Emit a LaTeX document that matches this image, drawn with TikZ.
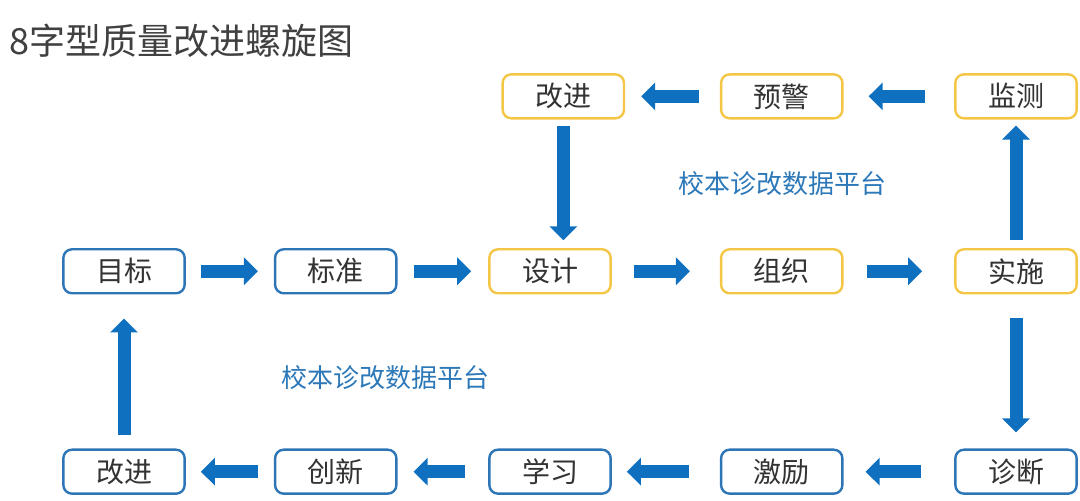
\documentclass[tikz,border=0pt]{standalone}
\usepackage{fontspec}
\newfontfamily\cjk{Noto Sans CJK SC}
\usetikzlibrary{matrix,arrows.meta}

\definecolor{boxblue}{HTML}{2E75B6}
\definecolor{boxyellow}{HTML}{F4C646}
\definecolor{arrowblue}{HTML}{1070C0}
\definecolor{platblue}{HTML}{2C78B8}
\definecolor{titlegray}{HTML}{404040}

\tikzset{
  box/.style={draw=boxblue, line width=1.8pt, rounded corners=6.5pt, fill=white,
    minimum width=91pt, minimum height=33pt, inner sep=0pt, anchor=center,
    text=black!80, font=\cjk\fontsize{21pt}{24pt}\selectfont},
  yel/.style={draw=boxyellow},
  flow/.style={color=arrowblue, line width=9.75pt,
    -{Triangle[width=20.25pt 0 0, length=10.5pt 0 0]}},
  gaps/.style 2 args={shorten <=#1, shorten >=#2},
  plat/.style={text=platblue, inner sep=0pt, font=\cjk\fontsize{19.5pt}{22pt}\selectfont}
}

\begin{document}
\begin{tikzpicture}[x=0.75pt, y=-0.75pt]
\useasboundingbox (0,0) rectangle (1080,500);
\node (title) [anchor=west, inner sep=0pt, text=titlegray,
  font=\cjk\fontsize{27pt}{30pt}\selectfont] at (9,41) {8字型质量改进螺旋图};
\matrix (a) [matrix of nodes, nodes={box}, inner sep=0pt,
  row sep=96.4pt, column sep=66pt] at (570,284)
{
 & &[1.9pt] |[yel, xshift=10pt]| 改进 &[5pt] |[yel]| 预警 &[16.9pt] |[yel]| 监测 \\
 目标 & 标准 &[1.9pt] |[yel]| 设计 &[5pt] |[yel]| 组织 &[16.9pt] |[yel]| 实施 \\[19.1pt]
 改进 & 创新 &[1.9pt] 学习 &[5pt] 激励 &[16.9pt] 诊断 \\
};
\node (plat1) [plat] at (782,184) {校本诊改数据平台};
\node (plat2) [plat] at (385,378) {校本诊改数据平台};
\path[flow]
(a-1-4) edge[gaps={15.75pt}{12pt}] (a-1-3)
(a-1-5) edge[gaps={21.75pt}{18.75pt}] (a-1-4)
(a-1-3) edge[gaps={4.5pt}{23.25pt}] (a-1-3 |- a-2-3)
(a-2-1) edge[gaps={11.25pt}{12pt}] (a-2-2)
(a-2-2) edge[gaps={12pt}{12.75pt}] (a-2-3)
(a-2-3) edge[gaps={16.5pt}{22.5pt}] (a-2-4)
(a-2-4) edge[gaps={17.25pt}{24pt}] (a-2-5)
(a-2-5) edge[gaps={6pt}{4.5pt}] (a-1-5)
        edge[gaps={18pt}{12pt}] (a-3-5)
(a-3-5) edge[gaps={24.75pt}{16.5pt}] (a-3-4)
(a-3-4) edge[gaps={23.25pt}{11.25pt}] (a-3-3)
(a-3-3) edge[gaps={17.25pt}{12pt}] (a-3-2)
(a-3-2) edge[gaps={12pt}{11.25pt}] (a-3-1)
(a-3-1) edge[gaps={9.75pt}{18pt}] (a-2-1);
\end{tikzpicture}
\end{document}
